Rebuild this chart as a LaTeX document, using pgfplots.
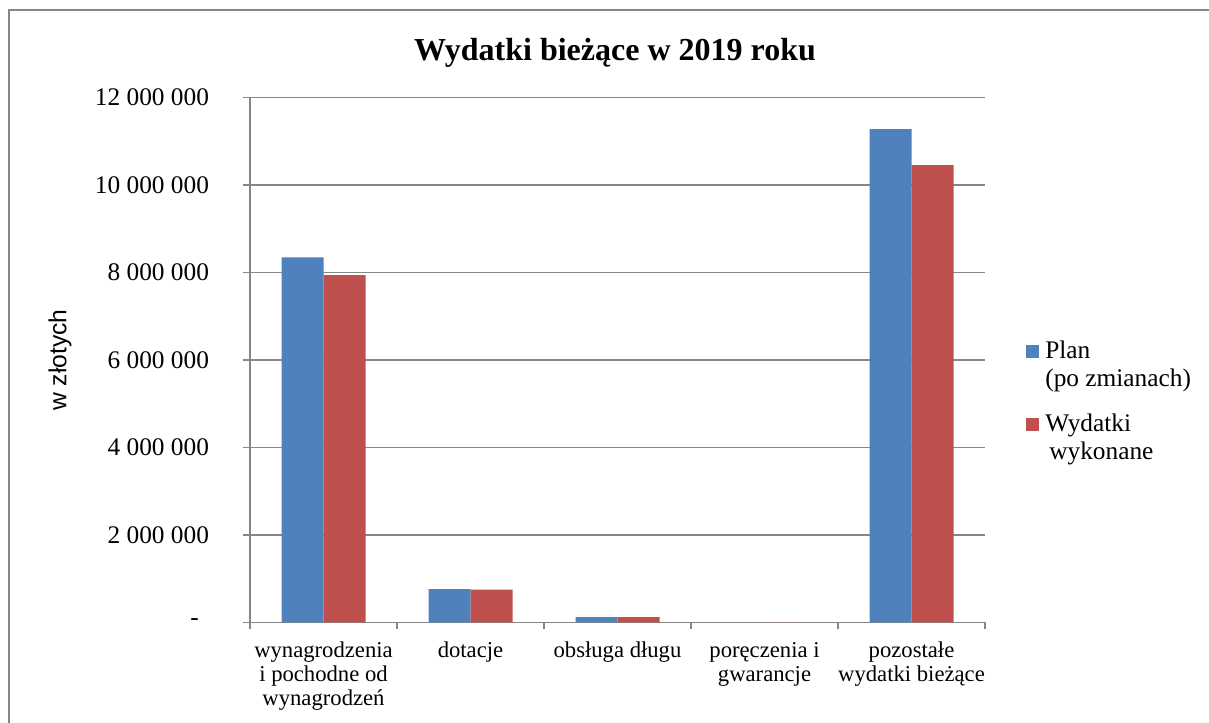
\documentclass[border=0pt]{standalone}
\usepackage{fontspec}
\setmainfont{Liberation Serif}
\setsansfont{Liberation Sans}
\usepackage{pgfplots}
\pgfplotsset{compat=1.18}
\definecolor{planblue}{RGB}{79,129,189}
\definecolor{wykred}{RGB}{192,80,77}
\definecolor{gridgray}{RGB}{134,134,134}
\begin{document}
\begin{tikzpicture}
\useasboundingbox (0pt,0pt) rectangle (906.75pt,541.5pt);
\draw[gridgray, line width=1.1pt] (6.75pt,-20pt) -- (6.75pt,534pt) -- (930pt,534pt);
\begin{axis}[
  at={(187.5pt,74.775pt)}, anchor=south west,
  width=551.25pt, height=393.45pt, scale only axis,
  xmin=-0.5, xmax=4.5, ymin=0, ymax=12000000,
  ybar=0pt, bar width=31.5pt,
  xtick={-0.5,0.5,1.5,2.5,3.5,4.5},
  x tick label as interval,
  xticklabels={{wynagrodzenia\\i pochodne od\\wynagrodzeń},{dotacje},{obsługa długu},{poręczenia i\\gwarancje},{pozostałe\\wydatki bieżące}},
  ytick={0,2000000,4000000,6000000,8000000,10000000,12000000},
  yticklabels={{\makebox[14pt][l]{-}},{2 000 000},{4 000 000},{6 000 000},{8 000 000},{10 000 000},{12 000 000}},
  scaled y ticks=false,
  ymajorgrids, grid style={gridgray, line width=1.1pt},
  axis x line*=bottom, axis y line*=left,
  axis line style={gridgray, line width=1.1pt},
  tick style={gridgray, line width=1.1pt},
  tick align=outside, major tick length=5.25pt,
  ticklabel style={text=black},
  xticklabel style={align=center, font=\fontsize{17}{18}\selectfont, yshift=-6pt},
  yticklabel style={xshift=-22pt, font=\fontsize{19}{20}\selectfont},
  title={Wydatki bieżące w 2019 roku},
  title style={at={(axis description cs:0.4966,1.055)}, anchor=base, font=\bfseries\fontsize{24}{28}\selectfont},
  ylabel={w złotych},
  every axis y label/.style={at={(axis description cs:-0.2585,0.5)}, rotate=90, anchor=center, font=\sffamily\fontsize{18.5}{20}\selectfont},
  legend style={at={(axis description cs:1.05,0.5477)}, anchor=north west, draw=none, fill=none,
    font=\fontsize{19}{21}\selectfont, cells={align=left, anchor=west}, row sep=15pt},
  legend cell align=left,
  legend image code/.code={\fill[#1] (0pt,5pt) rectangle (9.75pt,14.75pt); \path (12.5pt,5pt);},
]
\addplot[fill=planblue, draw=none] coordinates {(0,8350000) (1,760000) (2,120000) (3,0) (4,11280000)};
\addlegendentry{Plan\\(po zmianach)}
\addplot[fill=wykred, draw=none] coordinates {(0,7940000) (1,750000) (2,120000) (3,0) (4,10460000)};
\addlegendentry{Wydatki\\\hspace*{3pt}wykonane}
\end{axis}
\end{tikzpicture}
\end{document}
